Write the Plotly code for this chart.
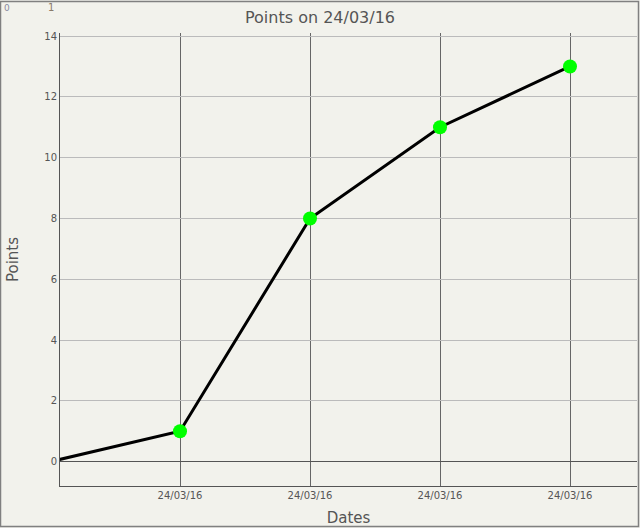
import plotly.graph_objects as go

x_index = [0, 1, 2, 3, 4]
points = [0, 1, 8, 11, 13]
tick_labels = ["24/03/16", "24/03/16", "24/03/16", "24/03/16"]
marker_visible = [False, True, True, True, True]

W, H = 640, 528
L, R, T, B = 60, 3, 33, 42
pw, ph = W - L - R, H - T - B

fig = go.Figure()
fig.add_trace(go.Scatter(
    x=x_index, y=points, mode="lines",
    line=dict(color="black", width=3), hoverinfo="skip", showlegend=False))
fig.add_trace(go.Scatter(
    x=[xv for xv, m in zip(x_index, marker_visible) if m],
    y=[yv for yv, m in zip(points, marker_visible) if m],
    mode="markers", marker=dict(color="#00ff00", size=14),
    showlegend=False))

def px_x(p):
    return (p - L) / pw
def px_y(p):
    return 1 - (p - T) / ph

fig.add_shape(type="rect", xref="paper", yref="paper",
              x0=px_x(0.5), x1=px_x(638.5), y0=px_y(526.5), y1=px_y(1.5),
              line=dict(color="#808080", width=1.5), layer="below")

fig.add_annotation(text="0", xref="paper", yref="paper", x=px_x(1.5), y=px_y(8),
                   showarrow=False, xanchor="left", yanchor="middle",
                   font=dict(size=9, color="#8a8aa0", family="DejaVu Sans"))
fig.add_annotation(text="1", xref="paper", yref="paper", x=px_x(51), y=px_y(8),
                   showarrow=False, xanchor="center", yanchor="middle",
                   font=dict(size=10, color="#8a7a6a", family="DejaVu Sans"))

fig.update_layout(
    width=W, height=H,
    margin=dict(l=L, r=R, t=T, b=B),
    paper_bgcolor="#f2f2ec", plot_bgcolor="#f2f2ec",
    font=dict(family="DejaVu Sans", color="#555555"),
    title=dict(text="Points on 24/03/16", x=0.5, xanchor="center",
               y=1 - 17 / H, yanchor="middle",
               font=dict(size=16, color="#555555")),
    xaxis=dict(
        range=[(60 - 50) / 130, (637 - 50) / 130],
        tickmode="array", tickvals=x_index[1:], ticktext=tick_labels,
        showgrid=True, gridcolor="#666666", gridwidth=1,
        showline=True, linecolor="#555555", linewidth=1,
        zeroline=False, ticks="", tickfont=dict(size=10, color="#555555"),
        title=dict(text="Dates", font=dict(size=15, color="#555555"), standoff=12),
    ),
    yaxis=dict(
        range=[-0.8, 14.1],
        tickmode="array", tickvals=[0, 2, 4, 6, 8, 10, 12, 14],
        showgrid=True, gridcolor="#bbbbbb", gridwidth=1,
        showline=True, linecolor="#555555", linewidth=1,
        zeroline=True, zerolinecolor="#555555", zerolinewidth=1,
        ticks="", tickfont=dict(size=10, color="#555555"),
        title=dict(text="Points", font=dict(size=15, color="#555555"), standoff=22),
    ),
)

fig.write_html("out.html", config={"displayModeBar": False},
               post_script="document.body.style.margin='0';document.body.style.overflow='hidden';")
